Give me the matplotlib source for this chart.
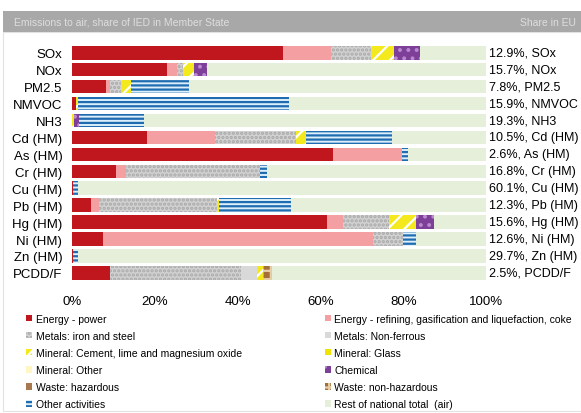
import matplotlib
matplotlib.use('Agg')
import matplotlib.pyplot as plt
from matplotlib.patches import Patch, Rectangle
import numpy as np

plt.rcParams['font.family'] = ['Liberation Sans', 'DejaVu Sans']
plt.rcParams['hatch.linewidth'] = 1.6

pollutants = ['SOx', 'NOx', 'PM2.5', 'NMVOC', 'NH3', 'Cd (HM)', 'As (HM)', 'Cr (HM)',
              'Cu (HM)', 'Pb (HM)', 'Hg (HM)', 'Ni (HM)', 'Zn (HM)', 'PCDD/F']
share_eu = [12.9, 15.7, 7.8, 15.9, 19.3, 10.5, 2.6, 16.8, 60.1, 12.3, 15.6, 12.6, 29.7, 2.5]

# share of national total (%) per IED sector
power = [51.0, 22.9, 8.2, 0.9, 0, 18.1, 63.1, 10.7, 0.3, 4.6, 61.5, 7.4, 0.3, 9.2]
refining = [11.5, 2.4, 1.0, 0, 0, 16.5, 16.5, 2.3, 0, 2.0, 4.0, 65.2, 0, 0]
iron_steel = [9.8, 1.6, 2.7, 0, 0, 19.6, 0, 32.3, 0, 28.4, 11.1, 7.4, 0, 31.5]
non_ferrous = [0, 0, 0, 0, 0, 0, 0, 0, 0, 0, 0, 0, 0, 4.0]
cement = [5.4, 2.6, 2.3, 0.6, 0.5, 2.2, 0, 0, 0, 0.5, 6.4, 0, 0, 1.5]
glass = [0] * 14
mineral_other = [0] * 14
chemical = [6.3, 3.1, 0, 0, 1.3, 0, 0, 0, 0, 0, 4.5, 0, 0, 0]
waste_haz = [0] * 14
waste_nonhaz = [0, 0, 0, 0, 0, 0, 0, 0, 0, 0, 0, 0, 0, 2.2]
other = [0, 0, 14.1, 50.8, 15.5, 21.0, 1.5, 1.7, 1.2, 17.5, 0, 3.0, 1.2, 0]

series = [power, refining, iron_steel, non_ferrous, cement, glass, mineral_other,
          chemical, waste_haz, waste_nonhaz, other]
rest = list(100 - np.sum(series, axis=0))

labels = ['Energy - power', 'Energy - refining, gasification and liquefaction, coke',
          'Metals: iron and steel', 'Metals: Non-ferrous',
          'Mineral: Cement, lime and magnesium oxide', 'Mineral: Glass',
          'Mineral: Other', 'Chemical', 'Waste: hazardous', 'Waste: non-hazardous',
          'Other activities', 'Rest of national total  (air)']
# (face, hatch colour, hatch)
styles = [('#C0161E', '#C0161E', None),
          ('#F4A0A3', '#F4A0A3', None),
          ('#D2D2D2', '#A9A9A9', '....'),
          ('#D9D9D9', '#D9D9D9', None),
          ('#F3E91C', '#FFFFFF', '//'),
          ('#F2E400', '#F2E400', None),
          ('#FFF6C4', '#FFF6C4', None),
          ('#7E3F98', '#B98AD0', '..'),
          ('#A8784E', '#A8784E', None),
          ('#A36F3A', '#E6CFA6', '++'),
          ('#DDEFFA', '#1F6CB0', '----'),
          ('#E6EFD9', '#E6EFD9', None)]

fig = plt.figure(figsize=(5.81, 4.14), dpi=100)
ax = fig.add_axes([0.124, 0.318, 0.7126, 0.5725])

y = np.arange(len(pollutants))
left = np.zeros(len(pollutants))
for vals, (fc, hc, h) in zip(series + [rest], styles):
    ax.barh(y, vals, left=left, height=0.8, color=fc, edgecolor=hc,
            linewidth=0, hatch=h)
    left += np.array(vals)

ax.set_xlim(0, 100)
ax.set_ylim(len(pollutants) - 0.5, -0.5)
ax.set_yticks(y)
ax.set_yticklabels(pollutants, fontsize=9.5)
ax.set_xticks([0, 20, 40, 60, 80, 100])
ax.set_xticklabels(['0%', '20%', '40%', '60%', '80%', '100%'], fontsize=9.5)
ax.tick_params(length=0)
ax.tick_params(axis='x', pad=10)
ax.tick_params(axis='y', pad=7)
for s in ax.spines.values():
    s.set_visible(False)

for i, (v, p) in enumerate(zip(share_eu, pollutants)):
    ax.text(100.6, i, f'{v}%, {p}', va='center', ha='left', fontsize=9,
            clip_on=False)

# header band
fig.patches.append(Rectangle((0.005, 0.005), 0.995, 0.915, transform=fig.transFigure,
                             facecolor='none', edgecolor='#E2E2E2', linewidth=0.8))
fig.patches.append(Rectangle((0.005, 1 - 33 / 414), 0.995, 21 / 414,
                             transform=fig.transFigure, facecolor='#A8A8A8',
                             edgecolor='none'))
fig.text(0.024, 1 - 22.5 / 414, 'Emissions to air, share of IED in Member State',
         color='#DEDEDE', fontsize=7.5, va='center')
fig.text(0.895, 1 - 22.5 / 414, 'Share in EU', color='#DEDEDE', fontsize=7.5,
         va='center')

handles = [Patch(facecolor=fc, edgecolor=hc, linewidth=0, hatch=h)
           for fc, hc, h in styles]
order = [0, 2, 4, 6, 8, 10, 1, 3, 5, 7, 9, 11]
fig.legend([handles[i] for i in order], [labels[i] for i in order], ncol=2,
           loc='upper left', bbox_to_anchor=(0.045, 0.24), frameon=False,
           fontsize=7.5, handlelength=0.6, handleheight=0.6, handletextpad=0.3,
           columnspacing=8.0, labelspacing=0.68, borderpad=0, borderaxespad=0)

fig.savefig('out.png', dpi=100)
